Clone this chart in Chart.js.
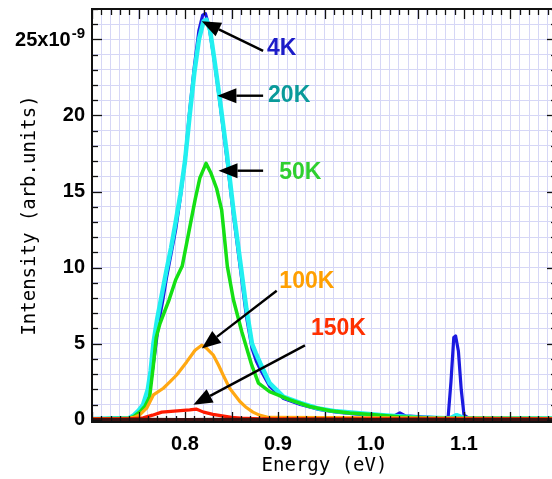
<!DOCTYPE html>
<html><head><meta charset="utf-8">
<script src="https://cdn.jsdelivr.net/npm/chart.js@4.4.0/dist/chart.umd.min.js"></script>
<style>
html,body{margin:0;padding:0;background:#fff;overflow:hidden;width:552px;height:479px}
#wrap{width:560px;height:479px;position:relative}
</style>
</head><body>
<div id="wrap"><canvas id="c" width="560" height="479"></canvas></div>
<script>
// ---- tick labels ----
const xTickLabels = ['0.8', '0.9', '1.0', '1.1'];
const yTickLabels = ['0', '5', '10', '15', '20'];
const yTopLabel = '25x10';
const yTopExp = '-9';
const yTopValue = 25;

// ---- series (Energy eV, Intensity x1e-9) ----
const e4K = [0.700,0.720,0.740,0.745,0.750,0.755,0.760,0.764,0.768,0.772,0.776,0.780,0.785,0.790,0.795,0.800,0.805,0.810,0.815,0.819,0.822,0.826,0.832,0.838,0.845,0.852,0.860,0.866,0.872,0.877,0.881,0.891,0.906,0.924,0.942,0.963,0.988,1.013,1.025,1.031,1.037,1.050,1.065,1.080,1.083,1.086,1.089,1.091,1.094,1.097,1.100,1.105,1.140,1.170,1.200];
const i4K = [0.05,0.08,0.12,0.2,0.4,0.8,1.6,2.8,4.6,6.5,7.8,9.3,10.9,12.5,14.6,17.0,20.3,23.2,25.6,26.6,26.7,25.8,23.4,20.6,17.2,13.5,9.7,6.8,4.7,3.8,3.3,2.2,1.4,1.0,0.7,0.5,0.35,0.25,0.25,0.45,0.25,0.2,0.15,0.1,0.2,2.5,5.4,5.5,4.5,2.0,0.3,0.1,0.08,0.08,0.08];

const e20K = [0.700,0.720,0.740,0.745,0.750,0.755,0.760,0.763,0.766,0.770,0.775,0.780,0.785,0.790,0.795,0.800,0.805,0.810,0.815,0.820,0.823,0.827,0.832,0.838,0.845,0.852,0.860,0.866,0.872,0.876,0.881,0.891,0.906,0.924,0.942,0.963,0.988,1.013,1.050,1.085,1.092,1.100,1.140,1.200];
const i20K = [0.05,0.08,0.12,0.3,0.6,1.0,2.0,3.2,5.0,6.6,8.2,9.8,11.3,13.0,14.8,17.0,20.0,22.8,25.0,26.2,26.3,25.6,23.5,20.8,17.5,13.8,10.1,7.3,5.0,4.4,3.7,2.4,1.5,1.1,0.76,0.55,0.42,0.3,0.15,0.1,0.3,0.1,0.08,0.08];

const e50K = [0.700,0.720,0.740,0.745,0.752,0.757,0.762,0.766,0.769,0.773,0.778,0.783,0.790,0.797,0.804,0.811,0.816,0.8226,0.828,0.834,0.8394,0.8455,0.852,0.861,0.8717,0.879,0.891,0.913,0.934,0.956,0.977,1.000,1.030,1.060,1.200];
const i50K = [0.05,0.08,0.1,0.2,0.55,0.9,1.5,3.6,5.4,6.3,7.1,7.9,9.2,10.1,12.3,14.5,15.9,16.85,16.2,15.2,13.8,10.1,7.9,5.8,3.6,2.4,1.85,1.3,0.87,0.59,0.44,0.35,0.2,0.12,0.08];

const e100K = [0.700,0.720,0.740,0.745,0.7516,0.7588,0.766,0.7767,0.784,0.791,0.8018,0.8108,0.818,0.823,0.8305,0.836,0.841,0.848,0.859,0.866,0.873,0.880,0.890,1.200];
const i100K = [0.05,0.06,0.1,0.15,0.33,0.76,1.63,2.07,2.5,2.94,3.8,4.57,4.9,4.7,4.24,3.6,2.94,2.07,1.2,0.8,0.5,0.3,0.15,0.08];

const e150K = [0.700,0.740,0.755,0.765,0.775,0.785,0.795,0.805,0.812,0.820,0.830,0.840,0.850,0.860,0.880,1.200];
const i150K = [0.05,0.06,0.12,0.3,0.5,0.55,0.6,0.65,0.7,0.5,0.35,0.25,0.15,0.1,0.06,0.06];

const eBase = [0.700,0.750,0.800,0.850,0.900,0.950,1.000,1.050,1.100,1.150,1.200];
const iBase = [0.0,0.02,0.0,0.02,0.0,0.01,0.0,0.01,0.0,0.01,0.0];

// ---- annotations (label, text position, arrow tail, arrow tip in data units) ----
const annoText = ['4K', '20K', '50K', '100K', '150K'];
const annoTextE = [0.904, 0.912, 0.924, 0.931, 0.965];
const annoTextI = [24.4, 21.3, 16.26, 9.1, 6.0];
const arrowTailE = [0.884, 0.884, 0.884, 0.8986, 0.929];
const arrowTailI = [24.25, 21.3, 16.37, 8.48, 4.89];
const arrowTipE = [0.818, 0.8348, 0.836, 0.818, 0.809];
const arrowTipI = [26.2, 21.3, 16.37, 4.68, 0.98];
const annoColors = ['#1c1cc8', '#0b9a9a', '#2fcf2f', '#ffa000', '#ff3000'];

function pts(e, v) { return e.map((x, k) => ({x: x, y: v[k]})); }

const decor = {
  id: 'decor',
  afterDatasetsDraw(chart) {
    const {ctx, chartArea: a, scales: {x, y}} = chart;
    ctx.save();
    ctx.strokeStyle = '#111';
    ctx.lineWidth = 1.3;
    const seg = (x1, y1, x2, y2) => { ctx.beginPath(); ctx.moveTo(x1, y1); ctx.lineTo(x2, y2); ctx.stroke(); };
    x.ticks.forEach(t => {
      const px = Math.round(x.getPixelForValue(t.value)) + 0.5;
      const major = Math.abs(t.value * 20 - Math.round(t.value * 20)) < 1e-6;
      const L = major ? 10 : 6;
      seg(px, a.top, px, a.top + L);
      seg(px, a.bottom, px, a.bottom - L);
    });
    y.ticks.forEach(t => {
      const py = Math.round(y.getPixelForValue(t.value)) + 0.5;
      const major = t.value % 5 === 0;
      const L = major ? 10 : 6;
      seg(a.left, py, a.left + L, py);
      seg(a.right, py, a.right - L, py);
    });
    ctx.lineWidth = 2;
    ctx.strokeStyle = '#111';
    ctx.strokeRect(a.left, a.top, a.right - a.left, a.bottom - a.top);

    for (let k = 0; k < annoText.length; k++) {
      const x1 = x.getPixelForValue(arrowTailE[k]), y1 = y.getPixelForValue(arrowTailI[k]);
      const x2 = x.getPixelForValue(arrowTipE[k]), y2 = y.getPixelForValue(arrowTipI[k]);
      const ang = Math.atan2(y2 - y1, x2 - x1);
      const HL = 19, HW = 7.5;
      const bx = x2 - HL * Math.cos(ang), by = y2 - HL * Math.sin(ang);
      ctx.strokeStyle = '#000'; ctx.fillStyle = '#000';
      ctx.lineWidth = 2.4;
      seg(x1, y1, bx, by);
      ctx.beginPath();
      ctx.moveTo(x2, y2);
      ctx.lineTo(bx + HW * Math.sin(ang), by - HW * Math.cos(ang));
      ctx.lineTo(bx - HW * Math.sin(ang), by + HW * Math.cos(ang));
      ctx.closePath();
      ctx.fill();
      ctx.font = 'bold 23px "Liberation Sans", Arial, sans-serif';
      ctx.textAlign = 'center';
      ctx.textBaseline = 'middle';
      ctx.fillStyle = annoColors[k];
      ctx.fillText(annoText[k], x.getPixelForValue(annoTextE[k]), y.getPixelForValue(annoTextI[k]));
    }

    const py = y.getPixelForValue(yTopValue);
    const rx = a.left - 7;
    ctx.fillStyle = '#000';
    ctx.textBaseline = 'alphabetic';
    ctx.textAlign = 'right';
    ctx.font = 'bold 15px "Liberation Sans", Arial, sans-serif';
    ctx.fillText(yTopExp, rx, py - 1);
    const ew = ctx.measureText(yTopExp).width;
    ctx.font = 'bold 20px "Liberation Sans", Arial, sans-serif';
    ctx.fillText(yTopLabel, rx - ew - 1, py + 7);
    ctx.restore();
  }
};

const gridColor = '#d6d6f6';

new Chart(document.getElementById('c'), {
  type: 'line',
  data: {
    datasets: [
      {label: '4K', data: pts(e4K, i4K), borderColor: '#1a1ae0', borderWidth: 3.2, order: 6},
      {label: '20K', data: pts(e20K, i20K), borderColor: '#22f0f0', borderWidth: 4.5, order: 5},
      {label: '50K', data: pts(e50K, i50K), borderColor: '#14e014', borderWidth: 3.5, order: 4},
      {label: '100K', data: pts(e100K, i100K), borderColor: '#ffa812', borderWidth: 3.2, order: 3},
      {label: '150K', data: pts(e150K, i150K), borderColor: '#ff1a00', borderWidth: 3.2, order: 2},
      {label: 'base', data: pts(eBase, iBase), borderColor: '#3a1212', borderWidth: 3.5, order: 1}
    ]
  },
  options: {
    responsive: false,
    animation: false,
    elements: {point: {radius: 0}, line: {tension: 0, borderJoinStyle: 'round', borderCapStyle: 'round'}},
    layout: {padding: {top: 9, right: 3, left: 0, bottom: 0}},
    plugins: {legend: {display: false}, tooltip: {enabled: false}},
    scales: {
      x: {
        type: 'linear', min: 0.70, max: 1.20,
        afterBuildTicks: (ax) => { ax.ticks = Array.from({length: 51}, (_, i) => ({value: (70 + i) / 100})); },
        afterFit: (ax) => { ax.height = 57; ax.paddingLeft = 0; ax.paddingRight = 0; },
        grid: {color: gridColor, lineWidth: 1, drawTicks: false},
        border: {display: false},
        ticks: {
          autoSkip: false, maxRotation: 0, padding: 10, color: '#000',
          font: {family: '"Liberation Sans", Arial, sans-serif', size: 20, weight: 'bold'},
          callback: (v) => { const s = Number(v).toFixed(1); return (Math.abs(v * 10 - Math.round(v * 10)) < 1e-6 && xTickLabels.includes(s)) ? s : ''; }
        },
        title: {display: true, text: 'Energy (eV)', color: '#000', padding: {top: 0, bottom: 2},
          font: {family: '"DejaVu Sans Mono", "Liberation Mono", monospace', size: 19, weight: 'normal'}}
      },
      y: {
        type: 'linear', min: -0.15, max: 27,
        afterBuildTicks: (ax) => { ax.ticks = Array.from({length: 28}, (_, i) => ({value: i})); },
        afterFit: (ax) => { ax.width = 92; ax.paddingTop = 0; ax.paddingBottom = 0; },
        grid: {color: gridColor, lineWidth: 1, drawTicks: false},
        border: {display: false},
        ticks: {
          autoSkip: false, padding: 7, color: '#000',
          font: {family: '"Liberation Sans", Arial, sans-serif', size: 20, weight: 'bold'},
          callback: (v) => yTickLabels.includes(String(v)) ? String(v) : ''
        },
        title: {display: true, text: 'Intensity (arb.units)', color: '#000', padding: {top: 19, bottom: 0},
          font: {family: '"DejaVu Sans Mono", "Liberation Mono", monospace', size: 19, weight: 'normal'}}
      }
    }
  },
  plugins: [decor]
});
</script>
</body></html>
